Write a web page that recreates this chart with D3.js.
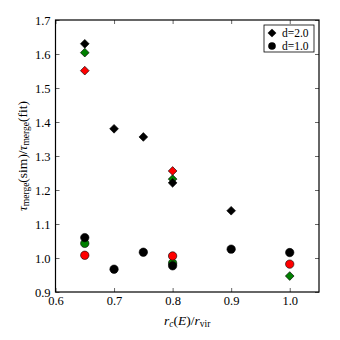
<!DOCTYPE html>
<html>
<head>
<meta charset="utf-8">
<script src="https://cdn.jsdelivr.net/npm/d3@7"></script>
<style>
  body { margin: 0; background: #fff; }
  text { font-family: "Liberation Serif", "DejaVu Serif", serif; }
</style>
</head>
<body>
<div id="chart"></div>
<script>
// data
var xTicks = [0.6, 0.7, 0.8, 0.9, 1.0];
var yTicks = [0.9, 1.0, 1.1, 1.2, 1.3, 1.4, 1.5, 1.6, 1.7];

// d=2.0 (diamonds)
var blackDiamondX = [0.65, 0.7, 0.75, 0.8, 0.9];
var blackDiamondY = [1.630, 1.380, 1.356, 1.221, 1.139];
var greenDiamondX = [0.65, 0.8, 1.0];
var greenDiamondY = [1.604, 1.232, 0.947];
var redDiamondX = [0.65, 0.8];
var redDiamondY = [1.551, 1.256];

// d=1.0 (circles)
var blackCircleX = [0.65, 0.7, 0.75, 0.8, 0.9, 1.0];
var blackCircleY = [1.060, 0.967, 1.017, 0.977, 1.026, 1.016];
var greenCircleX = [0.65, 0.8];
var greenCircleY = [1.043, 0.985];
var redCircleX = [0.65, 0.8, 1.0];
var redCircleY = [1.008, 1.006, 0.982];

var legendLabels = ["d=2.0", "d=1.0"];

//set chart
var svgWidth = 340;
var svgHeight = 340;
var margin = { top: 20, right: 21, bottom: 48, left: 55.5 };
var width = svgWidth - margin.left - margin.right;
var height = svgHeight - margin.top - margin.bottom;

var svg = d3.select("#chart")
  .append("svg")
  .attr("width", svgWidth)
  .attr("height", svgHeight);

var chartGroup = svg.append("g")
  .attr("transform", `translate(${margin.left}, ${margin.top})`);

var xScale = d3.scaleLinear().domain([0.6, 1.05]).range([0, width]);
var yScale = d3.scaleLinear().domain([0.9, 1.7]).range([height, 0]);

// axes, ticks pointing inward
var bottomAxis = d3.axisBottom(xScale).tickValues(xTicks).tickFormat(d3.format(".1f")).tickSizeInner(-4).tickSizeOuter(0).tickPadding(4);
var topAxis = d3.axisTop(xScale).tickValues(xTicks).tickFormat("").tickSizeInner(-4).tickSizeOuter(0);
var leftAxis = d3.axisLeft(yScale).tickValues(yTicks).tickFormat(d3.format(".1f")).tickSizeInner(-4).tickSizeOuter(0).tickPadding(5);
var rightAxis = d3.axisRight(yScale).tickValues(yTicks).tickFormat("").tickSizeInner(-4).tickSizeOuter(0);

function styleAxis(g) {
  g.select(".domain").remove();
  g.selectAll("line").attr("stroke", "#000").attr("stroke-width", 0.6);
  g.selectAll("text").attr("font-size", "12.5px").attr("fill", "#000")
    .style("font-family", "'Liberation Serif', serif");
}

chartGroup.append("g").attr("transform", `translate(0, ${height})`).call(bottomAxis).call(styleAxis);
chartGroup.append("g").call(topAxis).call(styleAxis);
chartGroup.append("g").call(leftAxis).call(styleAxis);
chartGroup.append("g").attr("transform", `translate(${width}, 0)`).call(rightAxis).call(styleAxis);

// frame
chartGroup.append("rect")
  .attr("width", width)
  .attr("height", height)
  .attr("fill", "none")
  .attr("stroke", "#000")
  .attr("stroke-width", 1.2);

var diamond = d3.symbol().type(d3.symbolSquare).size(38);

function drawDiamonds(xs, ys, color) {
  chartGroup.append("g").selectAll("path")
    .data(xs.map((x, i) => ({ x: x, y: ys[i] })))
    .enter()
    .append("path")
    .attr("d", diamond)
    .attr("transform", d => `translate(${xScale(d.x)}, ${yScale(d.y)}) rotate(45)`)
    .attr("fill", color)
    .attr("stroke", "#000")
    .attr("stroke-width", 0.6);
}

function drawCircles(xs, ys, color) {
  chartGroup.append("g").selectAll("circle")
    .data(xs.map((x, i) => ({ x: x, y: ys[i] })))
    .enter()
    .append("circle")
    .attr("cx", d => xScale(d.x))
    .attr("cy", d => yScale(d.y))
    .attr("r", 4.2)
    .attr("fill", color)
    .attr("stroke", "#000")
    .attr("stroke-width", 0.6);
}

drawDiamonds(greenDiamondX, greenDiamondY, "#008000");
drawDiamonds(redDiamondX, redDiamondY, "#ff0000");
drawDiamonds(blackDiamondX, blackDiamondY, "#000");
drawCircles(greenCircleX, greenCircleY, "#008000");
drawCircles(redCircleX, redCircleY, "#ff0000");
drawCircles(blackCircleX, blackCircleY, "#000");

// legend
var legend = chartGroup.append("g").attr("transform", `translate(${width - 55}, 5)`);
legend.append("rect")
  .attr("width", 50)
  .attr("height", 27)
  .attr("fill", "#fff")
  .attr("stroke", "#000")
  .attr("stroke-width", 0.8);
legend.append("path")
  .attr("d", diamond)
  .attr("transform", "translate(8, 8) rotate(45)")
  .attr("fill", "#000");
legend.append("circle")
  .attr("cx", 8).attr("cy", 21).attr("r", 3.8).attr("fill", "#000");
legendLabels.forEach(function (t, i) {
  legend.append("text")
    .attr("x", 18)
    .attr("y", 8 + i * 13)
    .attr("dy", "0.35em")
    .attr("font-size", "11.5px")
    .text(t);
});

// x label: r_c(E)/r_vir
var xl = svg.append("text")
  .attr("x", margin.left + width / 2)
  .attr("y", 325)
  .attr("text-anchor", "middle")
  .attr("font-size", "13.5px");
xl.append("tspan").attr("font-style", "italic").text("r");
xl.append("tspan").attr("font-style", "italic").attr("font-size", "9.5px").attr("dy", 2).text("c");
xl.append("tspan").attr("dy", -2).text("(");
xl.append("tspan").attr("font-style", "italic").text("E");
xl.append("tspan").text(")/");
xl.append("tspan").attr("font-style", "italic").text("r");
xl.append("tspan").attr("font-size", "9.5px").attr("dy", 2).text("vir");

// y label: tau_merge(sim)/tau_merge(fit)
var yl = svg.append("text")
  .attr("transform", `translate(27, ${margin.top + height / 2}) rotate(-90)`)
  .attr("text-anchor", "middle")
  .attr("font-size", "13.5px");
yl.append("tspan").attr("font-style", "italic").text("τ");
yl.append("tspan").attr("font-size", "9.5px").attr("dy", 2).text("merge");
yl.append("tspan").attr("dy", -2).text("(sim)/");
yl.append("tspan").attr("font-style", "italic").text("τ");
yl.append("tspan").attr("font-size", "9.5px").attr("dy", 2).text("merge");
yl.append("tspan").attr("dy", -2).text("(fit)");
</script>
</body>
</html>
